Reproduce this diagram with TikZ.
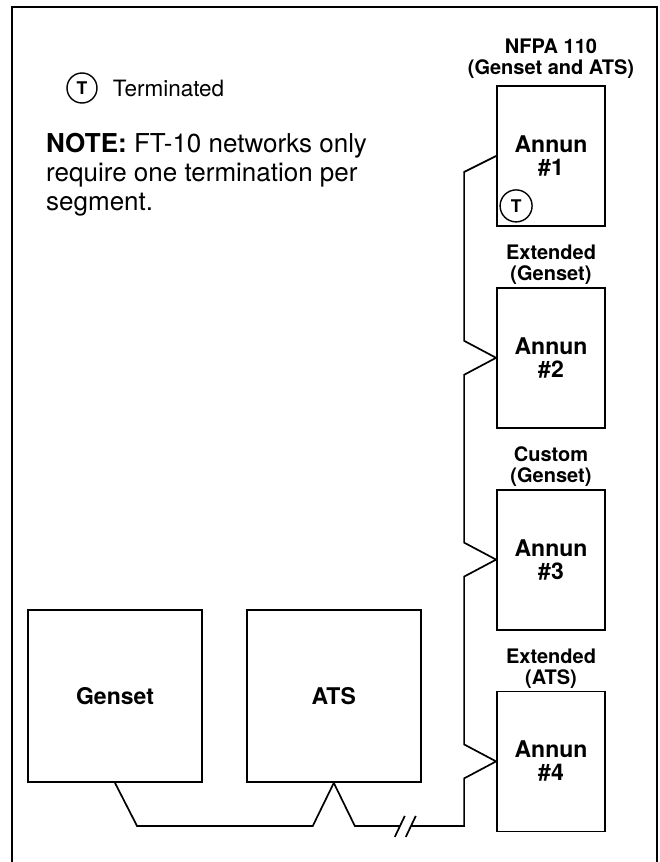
\documentclass[tikz,border=0pt]{standalone}
\usepackage{fontspec}
\setmainfont{TeX Gyre Heros}
\usetikzlibrary{positioning,calc}

\begin{document}
\begin{tikzpicture}[x=1pt,y=-1pt]
                    \tikzstyle{every node}=[inner sep=0]
                    \tikzstyle{unit}=[draw,rectangle,line width=1.8,minimum width=108,minimum height=140,align=center,font=\fontsize{23}{23}\selectfont\bfseries]
                    \tikzstyle{tag}=[anchor=south,align=center,inner sep=2,font=\fontsize{20}{21}\selectfont\bfseries]
                    \tikzstyle{term}=[draw,circle,line width=1.4,minimum size=30,font=\fontsize{17.5}{17.5}\selectfont\bfseries]
                    \tikzstyle{wire}=[line width=1.7,line join=miter]
                    \useasboundingbox (0,0) rectangle (660,862);
                    \draw[line width=2.6] (12,870) |- (657,7) -- (657,870);
                    % legend and note
                    {
                        \node[term] (tkey) at (82,88) {T};
                        \node[right=15pt of tkey,font=\fontsize{22.5}{22.5}\selectfont] (tkeytext) {Terminated};
                        \node[anchor=north west,align=left,font=\fontsize{26}{29}\selectfont] (note) at (46,133) {\textbf{NOTE:} FT-10 networks only\\require one termination per\\segment.};
                    }
                    % annunciators
                    {
                        \node[unit] (annun1) at (551,156) {Annun\\\#1};
                        \node[unit,below=60pt of annun1] (annun2) {Annun\\\#2};
                        \node[unit,below=60pt of annun2] (annun3) {Annun\\\#3};
                        \node[unit,below=60pt of annun3] (annun4) {Annun\\\#4};
                        \node[tag,yshift=4pt] (tag1) at (annun1.north) {NFPA 110\\(Genset and ATS)};
                        \node[tag] (tag2) at (annun2.north) {Extended\\(Genset)};
                        \node[tag] (tag3) at (annun3.north) {Custom\\(Genset)};
                        \node[tag] (tag4) at (annun4.north) {Extended\\(ATS)};
                        \node[term,minimum size=32] (tend) at ($(annun1.south west)+(20,-21)$) {T};
                    }
                    % genset and transfer switch
                    {
                        \node[unit,minimum width=174,minimum height=172] (genset) at (115,696) {Genset};
                        \node[unit,minimum width=174,minimum height=172,right=43pt of genset] (ats) {ATS};
                    }
                    % network wiring
                    \coordinate (brkL) at ($(ats.south)+(66,43)$);
                    \coordinate (brkR) at ($(brkL)+(11,0)$);
                    \draw[wire] (annun1.west) -- ++(-32,16)
                        -- ($(annun2.west)+(-32,-17)$) -- (annun2.west) -- ++(-32,17)
                        -- ($(annun3.west)+(-32,-17)$) -- (annun3.west) -- ++(-32,17)
                        -- ($(annun4.west)+(-32,-17)$) -- (annun4.west) -- ++(-32,17) |- (brkR);
                    \draw[wire] (brkL) -- ($(ats.south)+(21,43)$) -- (ats.south) -- ($(ats.south)+(-21,43)$)
                        -- ($(genset.south)+(22,43)$) -- (genset.south);
                    \draw[wire] ($(brkL)+(-5,11)$) -- ($(brkL)+(5,-10)$);
                    \draw[wire] ($(brkR)+(-5,11)$) -- ($(brkR)+(5,-10)$);
                \end{tikzpicture}
\end{document}
